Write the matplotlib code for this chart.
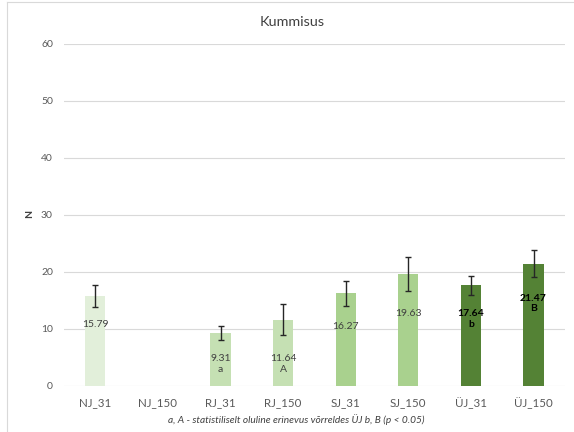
import matplotlib.pyplot as plt
import numpy as np

plt.rcParams['font.family'] = ['Lato', 'DejaVu Sans']

# andmed
groups = ["NJ_31", "NJ_150", "RJ_31", "RJ_150", "SJ_31", "SJ_150", "ÜJ_31", "ÜJ_150"]
means = [15.79, 0, 9.31, 11.64, 16.27, 19.63, 17.64, 21.47]
errs = [1.9, 0, 1.2, 2.7, 2.2, 3.0, 1.6, 2.4]
letters = ["", "", "a", "A", "", "", "b", "B"]
colors = ["#e2efda", "#e2efda", "#c5e0b3", "#c5e0b3",
          "#a9d18e", "#a9d18e", "#548235", "#548235"]
footnote = "a, A - statistiliselt oluline erinevus võrreldes ÜJ b, B (p < 0.05)"

fig = plt.figure(figsize=(5.74, 4.32), dpi=100)
ax = fig.add_axes([0.1115, 0.1065, 0.8725, 0.7917])

x = np.arange(len(groups))
ax.bar(x, means, width=0.32, color=colors, zorder=2)
shown = [i for i in x if means[i] > 0]
ax.errorbar(shown, [means[i] for i in shown], yerr=[errs[i] for i in shown],
            fmt='none', ecolor='#262626', elinewidth=1, capsize=2.5, capthick=1, zorder=3)

# sildid tulpade sees
label_y = [10.7, 0, 3.9, 3.9, 10.5, 12.8, 11.7, 14.45]
for i in shown:
    txt = f"{means[i]:.2f}"
    if letters[i]:
        txt += "\n" + letters[i]
    dark = i >= 6
    ax.text(i, label_y[i], txt, ha='center', va='center', fontsize=7.5,
            color='black' if dark else '#404040',
            fontweight='bold' if dark else 'normal', linespacing=1.25, zorder=4)

ax.set_xlim(-0.5, 7.5)
ax.set_ylim(0, 60)
ax.set_yticks(range(0, 61, 10))
ax.set_xticks(x)
ax.set_xticklabels(groups)
ax.yaxis.grid(True, color='#d9d9d9', linewidth=0.8, zorder=0)
ax.set_axisbelow(True)
for s in ax.spines.values():
    s.set_visible(False)
ax.tick_params(axis='both', length=0, labelcolor='#595959')
ax.tick_params(axis='x', pad=8, labelsize=8.3)
ax.tick_params(axis='y', pad=8, labelsize=7.5)

fig.text(30 / 574, 1 - 214 / 432, "N", rotation=90, ha='center', va='center',
         fontsize=7.5, fontweight='bold', color='#404040')
fig.text(292 / 574, 1 - 22 / 432, "Kummisus", ha='center', va='center', fontsize=10.4, color='#404040')
fig.text(296 / 574, 1 - 420 / 432, footnote, ha='center', va='center',
         fontsize=7.3, style='italic', color='#404040')

# raam
fig.add_artist(plt.Line2D([7 / 574, 7 / 574], [0, 1 - 2 / 432], transform=fig.transFigure,
                          color='#d9d9d9', linewidth=0.8))
fig.add_artist(plt.Line2D([7 / 574, 1], [1 - 2 / 432, 1 - 2 / 432], transform=fig.transFigure,
                          color='#d9d9d9', linewidth=0.8))

fig.savefig("out.png", dpi=100)
